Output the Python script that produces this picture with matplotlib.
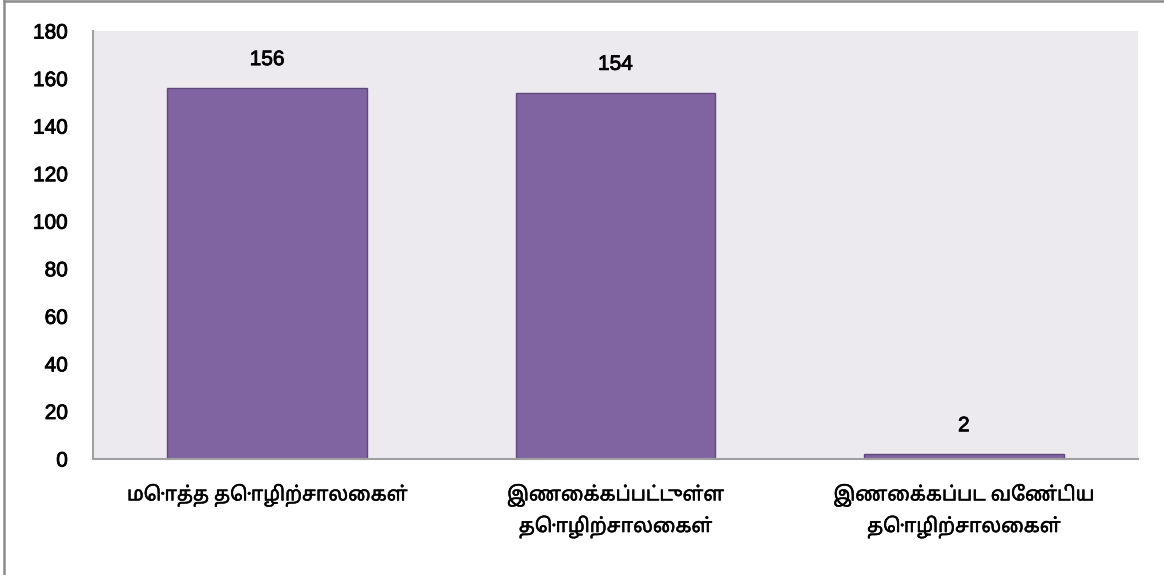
import matplotlib.pyplot as plt
import matplotlib.patheffects as pe
from matplotlib.lines import Line2D

categories = ['மொத்த தொழிற்சாலைகள்', 'இணைக்கப்பட்டுள்ள\nதொழிற்சாலைகள்', 'இணைக்கப்பட வேண்டிய\nதொழிற்சாலைகள்']
values = [156, 154, 2]
yticks = [0, 20, 40, 60, 80, 100, 120, 140, 160, 180]

num_font = ['Liberation Sans', 'DejaVu Sans']
tamil_font = ['Noto Sans Tamil', 'Lohit Tamil', 'Liberation Sans', 'DejaVu Sans']
thick = [pe.withStroke(linewidth=0.6, foreground='black')]
thin = [pe.withStroke(linewidth=0.35, foreground='black')]

fig = plt.figure(figsize=(11.64, 5.75), dpi=100)
# grey frame at the left and top of the picture
fig.lines.append(Line2D([0.0035, 0.0035], [0, 0.998], transform=fig.transFigure, color='#8c8c8c', lw=1.8))
fig.lines.append(Line2D([0.0035, 1], [0.998, 0.998], transform=fig.transFigure, color='#8c8c8c', lw=1.8))

ax = fig.add_axes([0.0799, 0.2017, 0.8977, 0.7443])
ax.set_facecolor('#ECEAEF')

x = range(len(categories))
bars = ax.bar(x, values, width=0.573, color='#8064A2', edgecolor='#5E4A7A', linewidth=1)
for b, v in zip(bars, values):
    ax.text(b.get_x() + b.get_width() / 2, v + 8, str(v), ha='center', va='bottom',
            fontsize=15, family=num_font, path_effects=thick)

ax.set_xlim(-0.5, 2.5)
ax.set_ylim(0, 180)
ax.set_yticks(yticks)
ax.set_yticklabels([str(t) for t in yticks], family=num_font, fontsize=15)
for t in ax.get_yticklabels():
    t.set_path_effects(thick)
ax.set_xticks(list(x))
ax.set_xticklabels(categories, fontsize=14, linespacing=1.55, family=tamil_font)
for t in ax.get_xticklabels():
    t.set_path_effects(thin)
ax.tick_params(axis='both', length=0)
ax.tick_params(axis='y', pad=18)
ax.tick_params(axis='x', pad=18)
for s in ['top', 'right']:
    ax.spines[s].set_visible(False)
ax.spines['left'].set_color('#a0a0a0')
ax.spines['bottom'].set_color('#a0a0a0')
ax.spines['left'].set_linewidth(1.5)
ax.spines['bottom'].set_linewidth(1.5)

fig.savefig('out.png', dpi=100)
